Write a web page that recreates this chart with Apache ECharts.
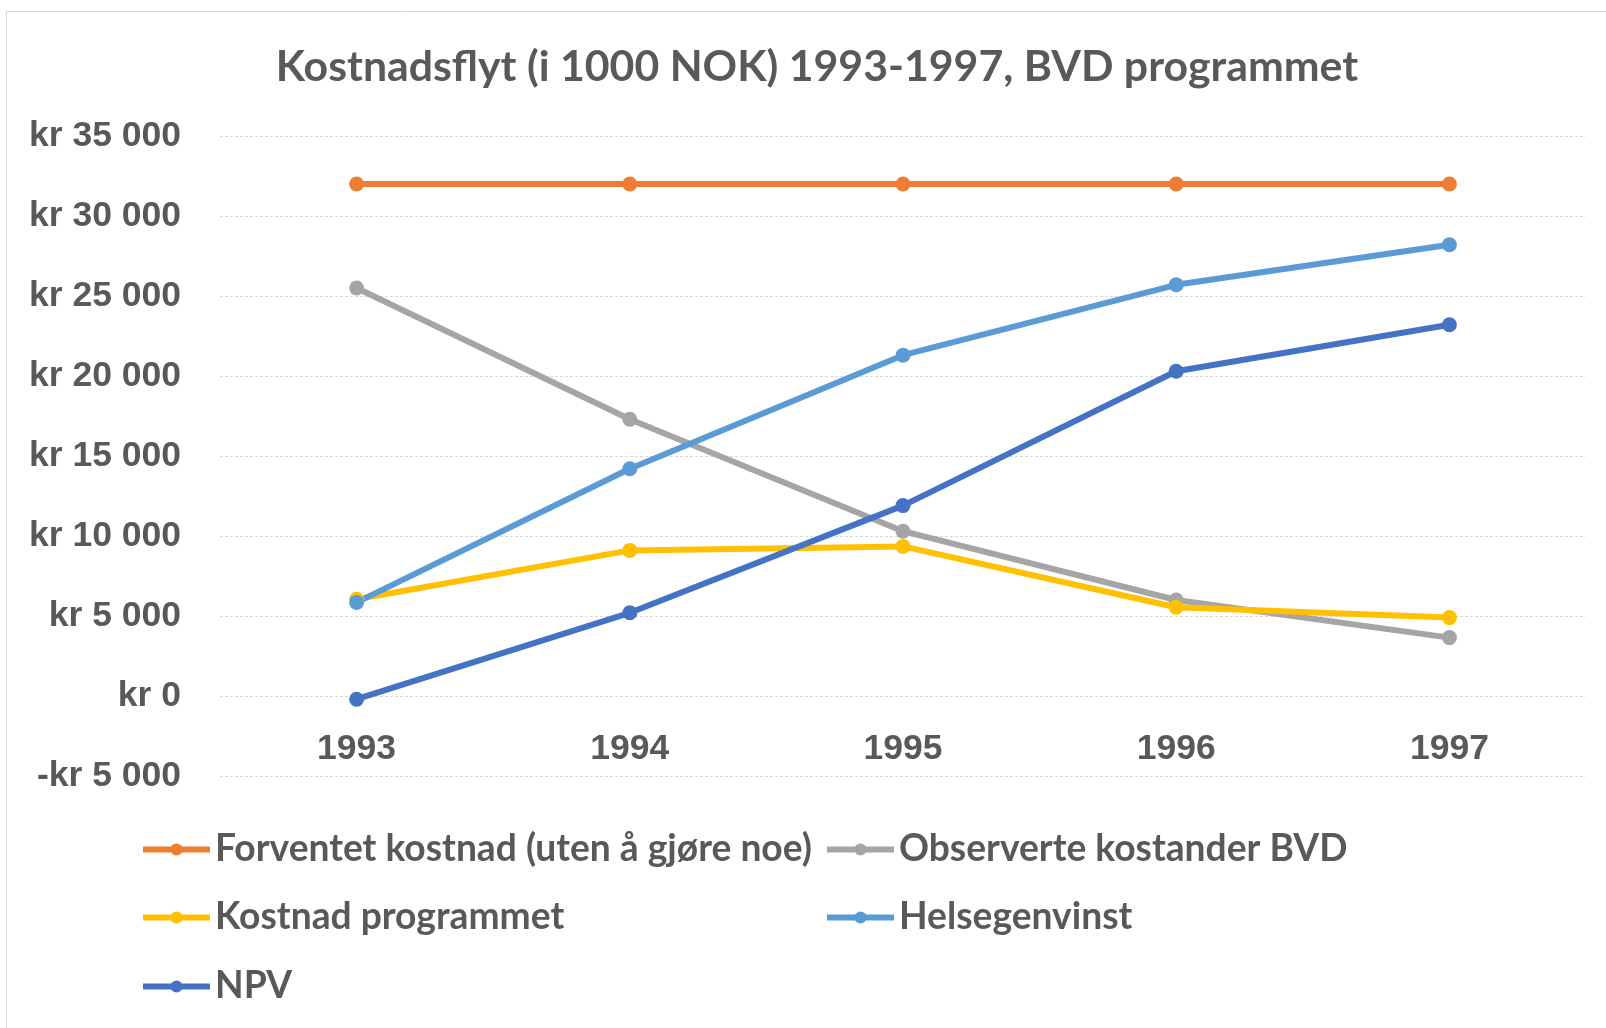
<!DOCTYPE html>
<html>
<head>
<meta charset="utf-8">
<script src="https://cdn.jsdelivr.net/npm/echarts@6/dist/echarts.min.js"></script>
<style>
html, body { margin: 0; padding: 0; background: #fff; }
#chart { width: 1606px; height: 1028px; }
</style>
</head>
<body>
<div id="chart"></div>
<script>
// kostnader i 1000 NOK
var years = ["1993", "1994", "1995", "1996", "1997"];
var forventet = [32000, 32000, 32000, 32000, 32000];
var observerte = [25500, 17300, 10300, 6000, 3650];
var kostnadProg = [6050, 9100, 9350, 5550, 4900];
var helsegevinst = [5850, 14200, 21300, 25700, 28200];
var npv = [-200, 5200, 11900, 20300, 23200];

var names = [
	"Forventet kostnad (uten å gjøre noe)",
	"Observerte kostander BVD",
	"Kostnad programmet",
	"Helsegenvinst",
	"NPV"
];
var colors = ["#ed7d31", "#a5a5a5", "#ffc000", "#5b9bd5", "#4472c4"];
var values = [forventet, observerte, kostnadProg, helsegevinst, npv];

function kr(v) {
	var s = String(Math.abs(v)).replace(/\B(?=(\d{3})+(?!\d))/g, " ");
	return (v < 0 ? "-kr " : "kr ") + s;
}

var legendPos = [
	{left: 140, top: 831},
	{left: 824, top: 831},
	{left: 140, top: 899},
	{left: 824, top: 899},
	{left: 140, top: 968}
];

var chart = echarts.init(document.getElementById("chart"));
chart.setOption({
	backgroundColor: "#fff",
	color: colors,
	animation: false,
	title: {
		text: "Kostnadsflyt (i 1000 NOK) 1993-1997, BVD programmet",
		left: 812,
		top: 41,
		textAlign: "center",
		textStyle: {
			fontFamily: "Lato",
			fontWeight: "bold",
			fontSize: 42.8,
			color: "#595959"
		}
	},
	legend: names.map(function (n, i) {
		return {
			data: [n],
			left: legendPos[i].left,
			top: legendPos[i].top,
			padding: 0,
			itemWidth: 67,
			itemHeight: 15,
			selectedMode: false,
			lineStyle: {width: 6},
			textStyle: {
				fontFamily: "Lato",
				fontWeight: "bold",
				fontSize: 37.2,
				color: "#595959"
			}
		};
	}),
	graphic: [{
		type: "rect",
		shape: {x: 6.5, y: 11.5, width: 1700, height: 1100},
		style: {fill: "none", stroke: "#d9d9d9", lineWidth: 1},
		silent: true
	}],
	grid: {
		left: 220,
		right: 20,
		top: 136,
		bottom: 252
	},
	xAxis: {
		type: "category",
		data: years,
		offset: -80,
		axisLine: {show: false, onZero: false},
		axisTick: {show: false},
		axisLabel: {
			margin: 35,
			fontFamily: "Liberation Sans",
			fontWeight: "bold",
			fontSize: 35.5,
			color: "#595959"
		}
	},
	yAxis: {
		type: "value",
		min: -5000,
		max: 35000,
		interval: 5000,
		axisLabel: {
			margin: 39,
			formatter: kr,
			fontFamily: "Liberation Sans",
			fontWeight: "bold",
			fontSize: 35.5,
			color: "#595959"
		},
		splitLine: {
			lineStyle: {color: "#d9d9d9", width: 1, type: [3, 2]}
		}
	},
	series: names.map(function (n, i) {
		return {
			name: n,
			type: "line",
			data: values[i],
			symbol: "circle",
			symbolSize: 15,
			lineStyle: {width: 6, color: colors[i]},
			itemStyle: {color: colors[i]}
		};
	})
});
</script>
</body>
</html>
